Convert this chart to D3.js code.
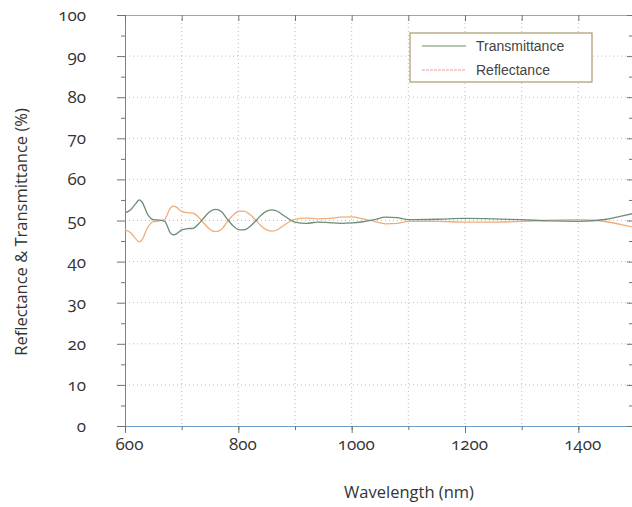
<!DOCTYPE html>
<html>
<head>
<meta charset="utf-8">
<script src="https://cdn.jsdelivr.net/npm/d3@7"></script>
<style>
  body { margin: 0; background: #fff; }
  svg { display: block; overflow: hidden; }
  .tick text { font-family: "Open Sans", Lato, sans-serif; font-variant-numeric: oldstyle-nums; font-feature-settings: "onum"; font-size: 17px; fill: #333; }
  .title { font-family: "Open Sans", Lato, sans-serif; font-size: 16.5px; fill: #333; }
  .legend text { font-family: "Liberation Sans", Arial, sans-serif; font-size: 14px; fill: #444; }
</style>
</head>
<body>
<div class="canvas"></div>
<script>
// spectra
const wavelength = [600, 610, 620, 625, 630, 640, 650, 660, 670, 680, 685, 690, 700, 710, 720, 730, 740, 750, 760, 770,
  780, 790, 800, 810, 820, 830, 840, 850, 860, 870, 880, 890, 900, 920, 940, 960, 980, 1000, 1020, 1040,
  1060, 1080, 1100, 1150, 1200, 1250, 1300, 1350, 1400, 1450, 1480, 1500];
const transmittance = [51.8, 52.6, 54.3, 55.0, 54.5, 51.5, 50.2, 50.1, 49.8, 47.0, 46.5, 46.7, 47.7, 48.0, 48.1, 49.2, 50.8, 52.2, 52.7, 52.2,
  50.4, 48.8, 47.8, 47.7, 48.5, 49.8, 51.3, 52.3, 52.6, 52.2, 51.2, 50.3, 49.6, 49.3, 49.6, 49.5, 49.3, 49.4, 49.7, 50.2,
  50.8, 50.7, 50.2, 50.3, 50.5, 50.4, 50.2, 49.9, 49.8, 50.3, 51.2, 51.8];
const reflectance = [47.8, 47.0, 45.4, 44.8, 45.3, 48.3, 49.7, 49.9, 50.3, 53.0, 53.5, 53.3, 52.2, 51.9, 51.8, 50.8, 49.2, 47.8, 47.3, 47.8,
  49.6, 51.2, 52.2, 52.3, 51.5, 50.2, 48.7, 47.7, 47.4, 47.8, 48.8, 49.7, 50.3, 50.6, 50.4, 50.5, 50.8, 50.9, 50.4, 49.8,
  49.2, 49.3, 49.8, 49.8, 49.6, 49.6, 49.8, 50.1, 50.2, 49.7, 48.9, 48.3];

const xTicks = [600, 800, 1000, 1200, 1400];
const xMinor = [600, 700, 800, 900, 1000, 1100, 1200, 1300, 1400, 1500];
const yTicks = [0, 10, 20, 30, 40, 50, 60, 70, 80, 90, 100];
const yMinor = [5, 15, 25, 35, 45, 55, 65, 75, 85, 95];
const seriesNames = ['Transmittance', 'Reflectance'];

const margin = { top: 15, left: 125 };
const graphWidth = 510;
const graphHeight = 411;

const svg = d3.select('.canvas')
  .append('svg')
  .attr('width', 632)
  .attr('height', 507);

const graph = svg.append('g')
  .attr('transform', `translate(${margin.left}, ${margin.top})`);

const x = d3.scaleLinear().domain([600, 1500]).range([0, graphWidth]);
const y = d3.scaleLinear().domain([0, 100]).range([graphHeight, 0]);

// dotted grid
graph.append('g').selectAll('line')
  .data(xMinor.slice(1))
  .join('line')
  .attr('x1', d => x(d)).attr('x2', d => x(d))
  .attr('y1', 0).attr('y2', graphHeight)
  .attr('stroke', '#b8bcc4').attr('stroke-dasharray', '1,3');
graph.append('g').selectAll('line')
  .data(yTicks.slice(1, -1))
  .join('line')
  .attr('x1', 0).attr('x2', graphWidth)
  .attr('y1', d => y(d)).attr('y2', d => y(d))
  .attr('stroke', '#b8bcc4').attr('stroke-dasharray', '1,3');

function styleAxis(g, color) {
  g.select('.domain').attr('stroke', color);
  g.selectAll('.tick line').attr('stroke', '#6f7568');
}

// left axis
graph.append('g')
  .call(d3.axisLeft(y).tickValues(yTicks).tickSize(8).tickPadding(31))
  .call(g => styleAxis(g, '#7d8476'));
graph.append('g')
  .call(d3.axisLeft(y).tickValues(yMinor).tickSize(4).tickFormat(''))
  .call(g => { g.select('.domain').remove(); g.selectAll('line').attr('stroke', '#6f7568'); });

// bottom axis
graph.append('g')
  .attr('transform', `translate(0, ${graphHeight})`)
  .call(d3.axisBottom(x).tickValues(xTicks).tickSize(7).tickPadding(5).tickFormat(d3.format('d')))
  .call(g => styleAxis(g, '#6f9fcc'))
  .call(g => g.selectAll('.tick text').attr('dx', 4));
graph.append('g')
  .attr('transform', `translate(0, ${graphHeight})`)
  .call(d3.axisBottom(x).tickValues(xMinor).tickSize(4).tickFormat(''))
  .call(g => { g.select('.domain').remove(); g.selectAll('line').attr('stroke', '#6f7568'); });

// top and right mirror ticks
graph.append('g')
  .call(d3.axisTop(x).tickValues(xMinor).tickSize(-6).tickFormat(''))
  .call(g => styleAxis(g, '#a9a98a'));
graph.append('g')
  .attr('transform', `translate(${graphWidth - 3}, 0)`)
  .call(d3.axisRight(y).tickValues(yTicks).tickSize(-5).tickFormat(''))
  .call(g => { g.select('.domain').remove(); g.selectAll('line').attr('stroke', '#6f7568'); });
graph.append('g')
  .attr('transform', `translate(${graphWidth - 3}, 0)`)
  .call(d3.axisRight(y).tickValues(yMinor).tickSize(-3).tickFormat(''))
  .call(g => { g.select('.domain').remove(); g.selectAll('line').attr('stroke', '#6f7568'); });

// curves
const line = d3.line()
  .x((d, i) => x(wavelength[i]))
  .y(d => y(d))
  .curve(d3.curveMonotoneX);

graph.append('path')
  .datum(reflectance)
  .attr('fill', 'none')
  .attr('stroke', '#f0ad78')
  .attr('stroke-width', 1.3)
  .attr('d', line);
graph.append('path')
  .datum(transmittance)
  .attr('fill', 'none')
  .attr('stroke', '#6e8c78')
  .attr('stroke-width', 1.3)
  .attr('d', line);

// legend
const legend = svg.append('g').attr('class', 'legend').attr('transform', 'translate(410, 33)');
legend.append('rect')
  .attr('width', 182).attr('height', 49)
  .attr('fill', '#fff').attr('stroke', '#a89a6a').attr('stroke-width', 1.2);
const legendColors = ['#6a8f66', '#e99a94'];
seriesNames.forEach((name, i) => {
  const row = legend.append('g').attr('transform', `translate(0, ${13 + i * 24})`);
  row.append('line')
    .attr('x1', 12).attr('x2', 56)
    .attr('stroke', legendColors[i]).attr('stroke-width', 1.2)
    .attr('stroke-dasharray', i === 1 ? '3,1' : null);
  row.append('text').attr('x', 66).attr('y', 5).text(name);
});

// axis titles
svg.append('text')
  .attr('class', 'title')
  .attr('text-anchor', 'middle')
  .attr('x', 409).attr('y', 498)
  .text('Wavelength (nm)');
svg.append('text')
  .attr('class', 'title')
  .attr('text-anchor', 'middle')
  .attr('transform', 'translate(27, 232) rotate(-90)')
  .text('Reflectance & Transmittance (%)');
</script>
</body>
</html>
